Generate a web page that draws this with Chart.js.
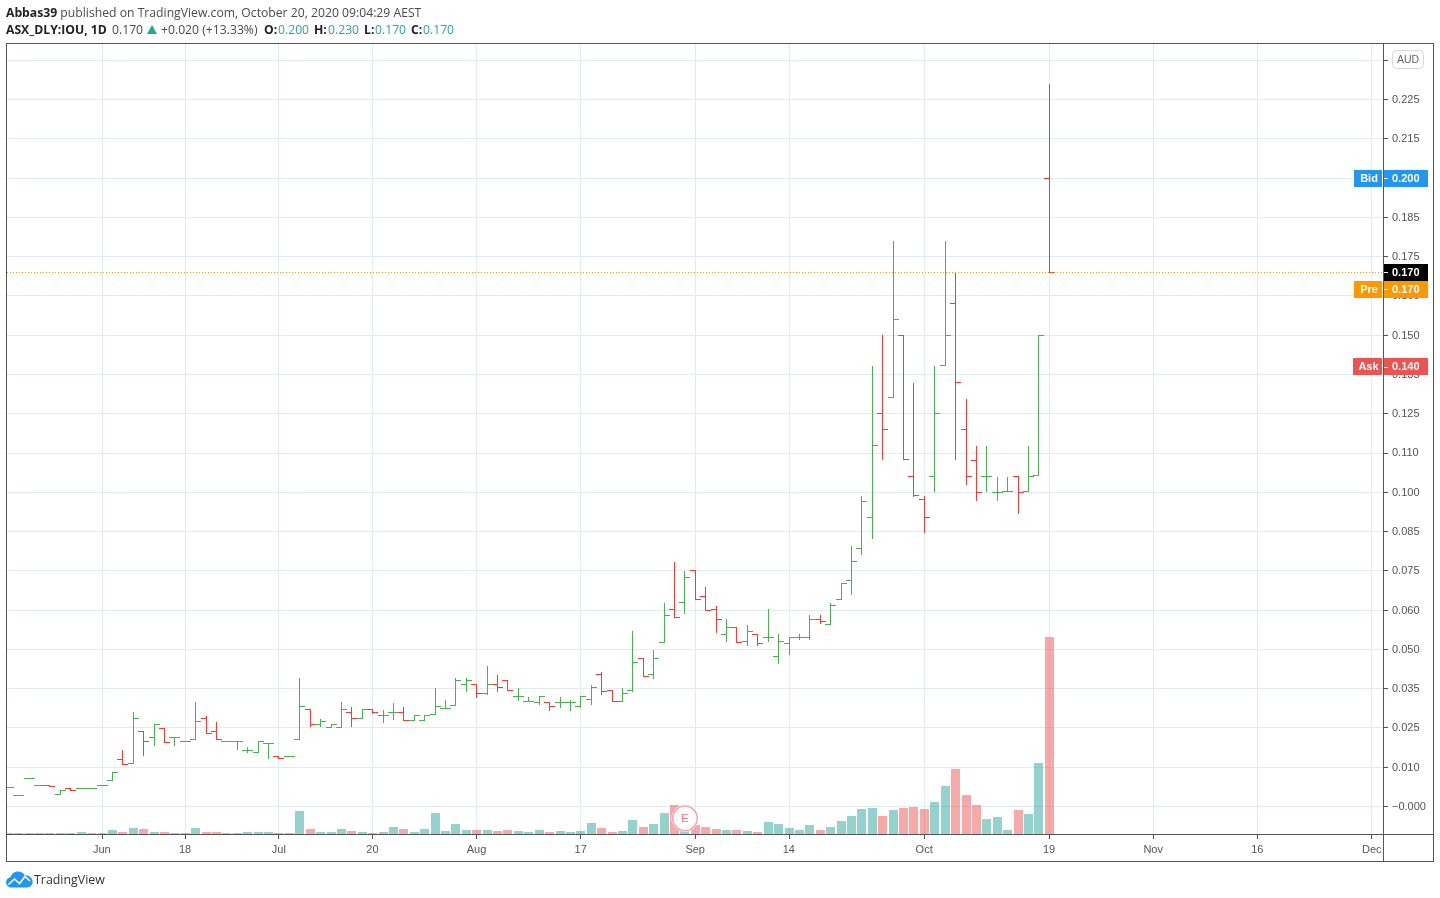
<!DOCTYPE html>
<html><head><meta charset="utf-8">
<script src="https://cdn.jsdelivr.net/npm/chart.js@4/dist/chart.umd.min.js"></script>
<style>
html,body{margin:0;padding:0;background:#fff;width:1440px;height:898px;overflow:hidden}
#c{position:absolute;left:0;top:0;display:block}
.h{position:absolute;font:12.2px "Open Sans",sans-serif;color:#4a4a4a;white-space:nowrap;line-height:16px}
.b{font-weight:700;color:#222}.t{color:#2aa79b}
</style></head><body>
<canvas id="c" width="1440" height="898"></canvas>
<div class="h" style="left:6px;top:5px"><span class="b">Abbas39</span> published on TradingView.com, October 20, 2020 09:04:29 AEST</div>
<div class="h b" style="left:6px;top:22px">ASX_DLY:IOU, 1D</div>
<div class="h" style="left:112px;top:22px">0.170</div>
<svg style="position:absolute;left:147px;top:25px" width="10" height="9"><path d="M5 0L10 9H0Z" fill="#26a69a"/></svg>
<div class="h" style="left:161px;top:22px">+0.020 (+13.33%)</div>
<div class="h b" style="left:264px;top:22px">O:</div><div class="h t" style="left:278px;top:22px">0.200</div>
<div class="h b" style="left:314px;top:22px">H:</div><div class="h t" style="left:328px;top:22px">0.230</div>
<div class="h b" style="left:364px;top:22px">L:</div><div class="h t" style="left:375px;top:22px">0.170</div>
<div class="h b" style="left:411px;top:22px">C:</div><div class="h t" style="left:423px;top:22px">0.170</div>
<svg style="position:absolute;left:6px;top:871px" width="27" height="17" viewBox="0 0 27 17"><path d="M6 16.5C2.5 16.5 0 14.2 0 11.2 0 8.6 2 6.6 4.4 6.2 5.6 2.6 8.6.5 12 .5c3 0 5.4 1.5 6.8 3.9 4.4-.4 7.9 3 7.9 6.7 0 3-2.6 5.4-5.8 5.4Z" fill="#2196f3"/><path d="M2.5 13.5L8.5 8 13.5 12.5 19 5.5 24 10" fill="none" stroke="#fff" stroke-width="1.6"/></svg>
<div class="h" style="left:34px;top:872px;font-size:12.4px;color:#333">TradingView</div>
<script>
const opens=[.0062,.0038,.009,.007,.007,.0041,.006,.006,.006,.007,
.0083,.015,.014,.0239,.022,.0249,.022,.021,.0214,.0281,
.0239,.021,.021,.0179,.0172,.0201,.016,.016,.0214,.031,
.0262,.0252,.0252,.03,.0281,.031,.029,.03,.03,.0274,
.0274,.0294,.0313,.0322,.0389,.0389,.036,.0389,.0402,.0351,
.0335,.0332,.0332,.0332,.0332,.0319,.0341,.0421,.037,.0335,
.037,.0472,.0421,.0522,.063,.065,.0752,.0669,.063,.055,
.057,.0528,.055,.0541,.048,.0519,.0541,.0541,.0598,.0582,
.0662,.072,.0822,.092,.1252,.1303,.1501,.1051,.098,.1051,
.1405,.1603,.1201,.1102,.1051,.1,.1003,.1051,.1003,.1054,.2];
const highs=[.0062,.0038,.009,.007,.007,.0051,.006,.006,.006,.007,
.0109,.018,.0301,.0239,.0262,.0249,.022,.021,.0333,.029,
.0271,.021,.021,.0191,.021,.0201,.016,.016,.0412,.031,
.0281,.0262,.0333,.0319,.031,.031,.031,.0332,.0319,.029,
.029,.038,.0341,.0412,.0412,.0389,.045,.0421,.0402,.038,
.0351,.0351,.0332,.0351,.0341,.0351,.0389,.0431,.037,.038,
.056,.0472,.05,.065,.078,.0752,.0752,.07,.064,.0598,
.057,.0579,.055,.063,.055,.0541,.055,.0611,.0611,.065,
.071,.0832,.099,.1403,.1501,.1802,.1501,.1351,.099,.1403,
.1802,.1702,.13,.115,.115,.1051,.1051,.1051,.115,.1501,.23];
const lows=[.0062,.0038,.009,.007,.0064,.0041,.0054,.006,.006,.007,
.0083,.0134,.0134,.0162,.0194,.0204,.0194,.021,.0214,.0233,
.0214,.021,.018,.0171,.0172,.0152,.0153,.016,.0214,.0252,
.0252,.0252,.0252,.0252,.0281,.0294,.0265,.0274,.0274,.0274,
.0274,.0294,.0313,.0322,.0364,.0345,.0354,.0364,.037,.0335,
.0335,.0322,.0303,.0313,.0303,.0313,.0322,.0354,.0335,.0335,
.0364,.0415,.0405,.0522,.0602,.0614,.0662,.0624,.0553,.0522,
.0522,.0511,.0511,.0522,.0452,.0483,.0531,.0531,.0582,.0582,
.0662,.0672,.08,.0852,.1104,.1303,.1105,.0984,.0871,.1002,
.1405,.1104,.1022,.0973,.1002,.0973,.1003,.0932,.1003,.1054,.17];
const closes=[.0062,.0038,.009,.007,.0064,.0051,.0054,.006,.006,.007,
.0109,.0134,.0281,.021,.0262,.0204,.022,.021,.0271,.0233,
.0214,.021,.021,.0179,.021,.0201,.0153,.016,.0319,.0262,
.0271,.0262,.031,.0281,.031,.03,.029,.03,.0274,.029,
.029,.0319,.0313,.0402,.0402,.036,.0389,.038,.037,.0351,
.0335,.0351,.0319,.0332,.0332,.0351,.038,.0368,.0335,.036,
.046,.0415,.0472,.0611,.0602,.0729,.0662,.0624,.0598,.057,
.0522,.056,.0519,.0541,.0528,.0541,.0541,.0598,.0589,.064,
.071,.078,.0971,.115,.1201,.1552,.1105,.099,.092,.1252,
.1501,.1351,.1051,.1,.1051,.1,.1003,.1,.1051,.1501,.17];
const volumes=[1,1,1,1,1,1,1,2,1,1,
4,2,6,5,2,2,1,1,6,2,
2,1,1,2,2,2,1,1,23,5,
2,2,5,3,2,1,2,7,5,2,
5,21,3,10,4,4,4,3,4,3,
2,4,2,3,2,3,11,6,2,3,
14,7,10,21,29,3,9,7,5,4,
4,3,2,12,10,6,4,9,4,7,
13,18,25,26,18,24,26,27,25,32,
48,65,39,29,15,17,4,24,20,71,197];
const xTickPositions=[9,17,26,35,45,55,66,75,88,100,110,120,131];
const xTickLabels=["Jun","18","Jul","20","Aug","17","Sep","14","Oct","19","Nov","16","Dec"];
const yTickValues=[0,.0125,.025,.0375,.05,.0625,.075,.0875,.1,.1125,.125,.1375,.15,.1625,.175,.1875,.2,.2125,.225,.2375];
const yTickLabels=["\u22120.000","0.010","0.025","0.035","0.050","0.060","0.075","0.085","0.100","0.110","0.125","0.135","0.150","0.160","0.175","0.185","0.200","0.215","0.225","0.235"];
const priceBadges=[{name:"Bid",value:.2,text:"0.200",color:"#2196f3",shift:0,left:1354},{name:"Pre",value:.17,text:"0.170",color:"#ff9800",shift:17,left:1354},{name:"Ask",value:.14,text:"0.140",color:"#ef5350",shift:0,left:1353}];
const lastPrice=.17, earningsIndex=65;

const UP="#4caf50",DOWN="#f93a30",AXIS="#555",GRID="#e1ebf2",TXT="#555";
const isUp=closes.map((c,i)=>c>=opens[i]);
function tick(color,side){const k=document.createElement("canvas");k.width=11;k.height=1;const g=k.getContext("2d");g.fillStyle=color;g.fillRect(side<0?0:5,0,6,1);return k;}
const tk={ou:tick(UP,-1),od:tick(DOWN,-1),cu:tick(UP,1),cd:tick(DOWN,1)};
const xs=opens.map((_,i)=>i);
const XMIN=-0.1297,XMAX=132.06;

const snap={id:"snap",afterDatasetsUpdate(ch){ch.getSortedVisibleDatasetMetas().forEach(m=>{m.data.forEach(e=>{
 if(m.label==="Last"){e.x=Math.round(e.x);e.y=Math.floor(e.y)+.5;return;}
 e.x=Math.floor(e.x)+.5;
 if(m.type==="bar"){e.y=m.label==="High-Low"?Math.ceil(e.y):Math.round(e.y);e.base=Math.round(e.base);}else{e.y=Math.round(e.y)+.5;}
});});}};
const chrome={id:"chrome",afterDraw(ch){
 const g=ch.ctx,y=ch.scales.y,x=ch.scales.x;g.save();
 const ex=x.getPixelForValue(earningsIndex),ey=818.3;
 g.beginPath();g.arc(ex,ey,13.5,0,7);g.fillStyle="rgba(255,255,255,.9)";g.fill();
 g.beginPath();g.arc(ex,ey,12.3,0,7);g.strokeStyle="#f4a3ae";g.lineWidth=1.5;g.stroke();
 g.fillStyle="#ee6b7e";g.font='11px "Liberation Sans"';g.textAlign="center";g.textBaseline="middle";g.fillText("E",ex,ey+.5);
 g.fillStyle=AXIS;
 g.fillRect(6,43,1428,1);g.fillRect(6,861,1428,1);g.fillRect(6,43,1,819);g.fillRect(1433,43,1,819);
 g.fillRect(1383,43,1,819);g.fillRect(6,834,1428,1);
 const tag=(name,text,color,cy,left)=>{const t=Math.round(cy-8.5);
  g.fillStyle=color;g.fillRect(1384,t,44,17);
  g.fillStyle="#fff";g.fillRect(1384,Math.round(cy),4,1);
  g.font='bold 11px "Liberation Sans"';g.textAlign="left";g.textBaseline="middle";g.fillText(text,1392,t+9);
  if(name){g.fillStyle=color;g.fillRect(left,t,1382-left,17);g.fillStyle="#fff";g.textAlign="center";g.fillText(name,(left+1384)/2,t+9);}
 };
 priceBadges.forEach(b=>{if(b.shift===0)tag(b.name,b.text,b.color,y.getPixelForValue(b.value),b.left);});
 tag("","0.170","#000",y.getPixelForValue(lastPrice));
 priceBadges.forEach(b=>{if(b.shift!==0)tag(b.name,b.text,b.color,y.getPixelForValue(b.value)+b.shift,b.left);});
 g.fillStyle="#fff";g.strokeStyle="#d6d8e0";g.lineWidth=1;g.beginPath();g.roundRect(1392.5,50.5,31,18,4);g.fill();g.stroke();
 g.fillStyle="#666";g.font='10.5px "Liberation Sans"';g.textAlign="center";g.textBaseline="middle";g.fillText("AUD",1408,60);
 g.restore();
}};
new Chart(document.getElementById("c"),{
 data:{datasets:[
  {type:"line",label:"Last",data:[{x:XMIN,y:lastPrice},{x:XMAX,y:lastPrice}],borderColor:"#ff9800",borderWidth:1,borderDash:[1,2],pointRadius:0,yAxisID:"y",order:0},
  {type:"line",label:"Open",data:xs.map(i=>({x:i,y:opens[i]})),showLine:false,pointRadius:3,pointStyle:xs.map(i=>isUp[i]?tk.ou:tk.od),yAxisID:"y",order:1},
  {type:"line",label:"Close",data:xs.map(i=>({x:i,y:closes[i]})),showLine:false,pointRadius:3,pointStyle:xs.map(i=>isUp[i]?tk.cu:tk.cd),yAxisID:"y",order:2},
  {type:"bar",label:"High-Low",data:xs.map(i=>({x:i,y:[lows[i],highs[i]]})),backgroundColor:xs.map(i=>isUp[i]?UP:DOWN),barThickness:1,inflateAmount:0,grouped:false,yAxisID:"y",order:3},
  {type:"bar",label:"Volume",data:xs.map(i=>({x:i,y:volumes[i]})),backgroundColor:xs.map(i=>isUp[i]?"rgba(0,150,136,.42)":"rgba(239,83,80,.5)"),barThickness:9,inflateAmount:0,grouped:false,yAxisID:"yVol",order:4}
 ]},
 options:{responsive:false,animation:false,events:[],
  layout:{padding:{left:7,top:44,right:7,bottom:37}},
  plugins:{legend:{display:false},tooltip:{enabled:false}},
  scales:{
   x:{type:"linear",min:XMIN,max:XMAX,offset:false,
    afterBuildTicks(s){s.ticks=xTickPositions.map(v=>({value:v}));},
    afterFit(s){s.height=27;},
    grid:{offset:false,color:GRID,lineWidth:1,tickColor:AXIS,tickLength:5},border:{display:false},
    ticks:{autoSkip:false,maxRotation:0,includeBounds:false,padding:4,labelOffset:-0.2,color:TXT,font:{family:"Liberation Sans",size:11},callback(v){const k=xTickPositions.indexOf(v);return k<0?"":xTickLabels[k];}}},
   y:{type:"linear",position:"right",min:-0.00875,max:.24268,
    afterBuildTicks(s){s.ticks=yTickValues.map(v=>({value:v}));},
    afterFit(s){s.width=50;},
    grid:{color:GRID,lineWidth:1,tickColor:AXIS,tickLength:5},border:{display:false},
    ticks:{autoSkip:false,padding:4,labelOffset:0.4,color:TXT,font:{family:"Liberation Sans",size:11},callback(v){const k=yTickValues.indexOf(v);return k<0?"":yTickLabels[k];}}},
   yVol:{type:"linear",display:false,min:0,max:790}
  }
 },
 plugins:[snap,chrome]
});
</script>
</body></html>
